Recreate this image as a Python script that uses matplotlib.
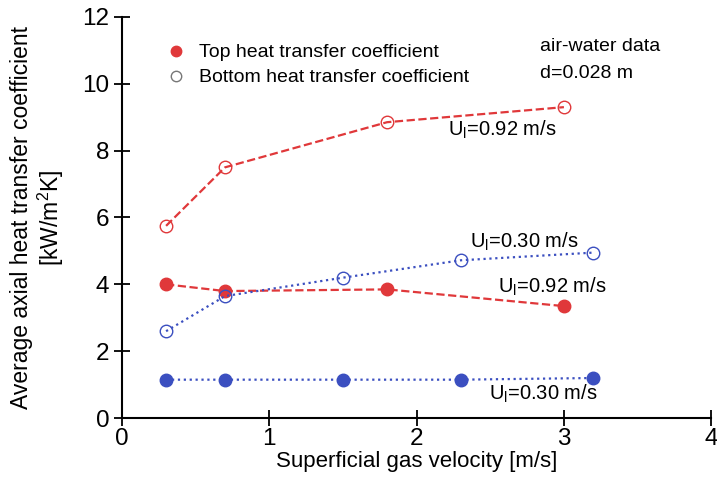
import matplotlib.pyplot as plt
from matplotlib.lines import Line2D

plt.rcParams['font.family'] = ['Liberation Sans', 'DejaVu Sans']
plt.rcParams['mathtext.fontset'] = 'custom'
plt.rcParams['mathtext.rm'] = 'Liberation Sans'

# air-water data, d = 0.028 m
x_high = [0.3, 0.7, 1.8, 3.0]           # U_l = 0.92 m/s
top_high = [4.0, 3.8, 3.85, 3.35]
bottom_high = [5.75, 7.5, 8.85, 9.3]

x_low = [0.3, 0.7, 1.5, 2.3, 3.2]       # U_l = 0.30 m/s
top_low = [1.15, 1.15, 1.15, 1.15, 1.2]
bottom_low = [2.6, 3.65, 4.2, 4.72, 4.95]

red = '#e0383a'
blue = '#3b4fc0'

fig = plt.figure(figsize=(7.17, 4.96), dpi=100)
ax = fig.add_axes([0.170, 0.157, 0.822, 0.809])

ms = 9
ax.plot(x_high, bottom_high, '--', color=red, lw=1.6, marker='o', ms=ms,
        mfc='none', mec=red, mew=1.0)
ax.plot(x_high, top_high, '--', color=red, lw=1.6, marker='o', ms=ms,
        mfc=red, mec=red)
ax.plot(x_low, bottom_low, ':', color=blue, lw=1.6, marker='o', ms=ms,
        mfc='none', mec=blue, mew=1.0)
ax.plot(x_low, top_low, ':', color=blue, lw=1.6, marker='o', ms=ms,
        mfc=blue, mec=blue)

ts = 14.5
ul = r'U$_\mathregular{l}$'
ax.text(2.21, 8.62, ul + '=0.92 m/s', fontsize=ts, va='center')
ax.text(2.36, 5.27, ul + '=0.30 m/s', fontsize=ts, va='center')
ax.text(2.55, 3.92, ul + '=0.92 m/s', fontsize=ts, va='center')
ax.text(2.49, 0.72, ul + '=0.30 m/s', fontsize=ts, va='center')
ax.text(2.84, 11.12, 'air-water data', fontsize=14, va='center')
ax.text(2.84, 10.32, 'd=0.028 m', fontsize=14, va='center')

handles = [
    Line2D([], [], ls='none', marker='o', ms=7.5, mfc=red, mec=red),
    Line2D([], [], ls='none', marker='o', ms=7.5, mfc='none', mec='#777777'),
]
ax.legend(handles, ['Top heat transfer coefficient',
                    'Bottom heat transfer coefficient'],
          loc='upper left', bbox_to_anchor=(0.055, 0.962), frameon=False,
          fontsize=14, handletextpad=0.7, labelspacing=0.38,
          handlelength=1.0, borderaxespad=0.2)

ax.set_xlim(0, 4)
ax.set_ylim(0, 12)
ax.set_xticks([0, 1, 2, 3, 4])
ax.set_yticks([0, 2, 4, 6, 8, 10, 12])
for side in ('top', 'right'):
    ax.spines[side].set_visible(False)
for side in ('left', 'bottom'):
    ax.spines[side].set_linewidth(1.5)
ax.tick_params(direction='inout', length=12, width=1.3, labelsize=17.5)
ax.tick_params(axis='x', pad=1)
ax.tick_params(axis='y', pad=3)
ax.set_xlabel('Superficial gas velocity [m/s]', fontsize=16, labelpad=1)
ax.set_ylabel('Average axial heat transfer coefficient\n[kW/m$^2$K]',
              fontsize=16.5, labelpad=12, linespacing=1.1)

fig.savefig('out.png', dpi=100)
